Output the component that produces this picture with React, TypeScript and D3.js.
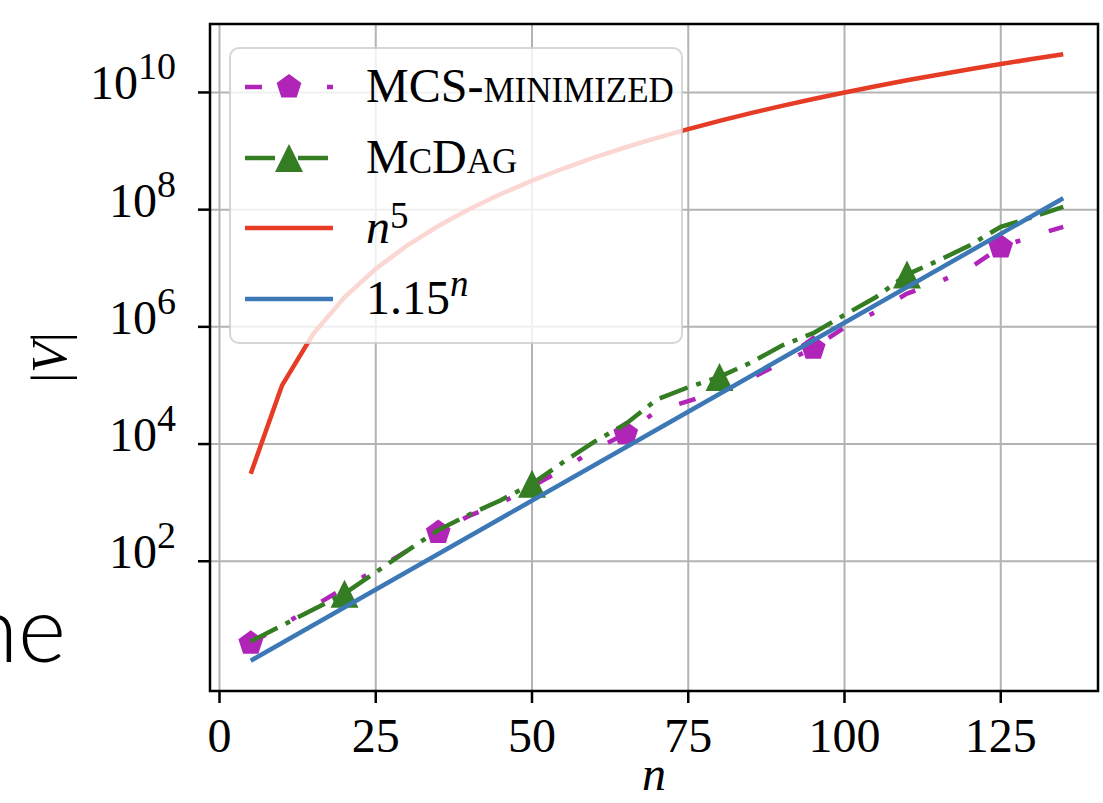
import React from 'react';
import * as d3 from 'd3';

// problem size n (x axis)
const nValues = [5, 10, 15, 20, 25, 30, 35, 40, 45, 50, 55, 60, 65, 70, 75, 80, 85, 90, 95, 100, 105, 110, 115, 120, 125, 130, 135];

// |V|
const mcsMinimized = [4, 8, 17, 35, 72, 150, 310, 600, 980, 1900, 3700, 8100, 15000, 37000, 54000, 79000, 132000, 245000, 430000, 980000, 1.8e6, 3.7e6, 5.8e6, 1.0e7, 2.3e7, 3.5e7, 5.1e7];
const mcDag = [4.3, 8, 15, 28, 65, 150, 340, 630, 1100, 2100, 4900, 11000, 22000, 58000, 93000, 140000, 245000, 480000, 780000, 1.6e6, 3.2e6, 7.8e6, 1.35e7, 2.45e7, 5.1e7, 7.4e7, 1.12e8];

// reference curves
const polyValues = [3125, 100000, 759375, 3200000, 9765625, 24300000, 52521875, 102400000, 184528125, 312500000, 503284375, 777600000, 1160290625, 1680700000, 2373046875, 3276800000, 4437053125, 5904900000, 7737809375, 10000000000, 12762815625, 16105100000, 20113571875, 24883200000, 30517578125, 37129300000, 44840334375];
const expN = [5, 70, 135];
const expValues = [2.011, 17740, 1.564e8];

// where markers sit
const mcsMarkerN = [5, 35, 65, 95, 125];
const mcDagMarkerN = [20, 50, 80, 110];

const xTicks = [0, 25, 50, 75, 100, 125];
const yTickExps = [2, 4, 6, 8, 10];

const W = 1103;
const H = 803;
const left = 210, right = 1098, top = 24, bottom = 691;

const C_MCS = '#b024b8';
const C_DAG = '#347d22';
const C_POLY = '#e63b25';
const C_EXP = '#3c78b6';
const SERIF = '"Liberation Serif", "DejaVu Serif", serif';

const pentagon = (r: number) => {
  const p = d3.path();
  for (let k = 0; k < 5; k++) {
    const a = (-90 + k * 72) * Math.PI / 180;
    const px = r * Math.cos(a), py = r * Math.sin(a);
    if (k === 0) p.moveTo(px, py); else p.lineTo(px, py);
  }
  p.closePath();
  return p.toString();
};

const triangle = (h: number) => `M0,${-h}L${-h},${h}L${h},${h}Z`;

const App = () => {
  const x = d3.scaleLinear().domain([-1.52, 140.56]).range([left, right]);
  const y = d3.scaleLog().domain([Math.pow(10, -0.214), Math.pow(10, 11.168)]).range([bottom, top]);

  const line = d3.line<[number, number]>()
    .x(d => x(d[0]))
    .y(d => y(d[1]));

  const mcsPts = nValues.map((n, i) => [n, mcsMinimized[i]] as [number, number]);
  const dagPts = nValues.map((n, i) => [n, mcDag[i]] as [number, number]);
  const polyPts = nValues.map((n, i) => [n, polyValues[i]] as [number, number]);
  const expPts = expN.map((n, i) => [n, expValues[i]] as [number, number]);

  const pent = pentagon(13);
  const tri = triangle(14);

  // legend layout
  const lgX = 230, lgY = 48, lgW = 452, lgH = 295;
  const rowY = [87, 158, 228, 299];
  const hx0 = 245, hx1 = 333, hxm = 289, tx = 366;

  return (
    <svg width={W} height={H} style={{ position: 'absolute', left: 0, top: 0, background: '#fff' }}
      fontFamily={SERIF}>
      <defs>
        <clipPath id="plot">
          <rect x={left} y={top} width={right - left} height={bottom - top} />
        </clipPath>
      </defs>
      <rect x={0} y={0} width={W} height={H} fill="#fff" />

      {/* grid */}
      <g stroke="#b3b3b3" strokeWidth={2}>
        {xTicks.map(t => <line key={'gx' + t} x1={x(t)} x2={x(t)} y1={top} y2={bottom} />)}
        {yTickExps.map(e => <line key={'gy' + e} x1={left} x2={right} y1={y(Math.pow(10, e))} y2={y(Math.pow(10, e))} />)}
      </g>

      {/* series */}
      <g clipPath="url(#plot)">
        <path d={line(mcsPts) || ''} fill="none" stroke={C_MCS} strokeWidth={4.5} strokeDasharray="17 30 5 30" />
        {mcsPts.filter(p => mcsMarkerN.includes(p[0])).map(p => (
          <path key={'m' + p[0]} d={pent} transform={`translate(${x(p[0])},${y(p[1])})`} fill={C_MCS} />
        ))}
        <path d={line(dagPts) || ''} fill="none" stroke={C_DAG} strokeWidth={4.5} strokeDasharray="30 9 5 9" />
        {dagPts.filter(p => mcDagMarkerN.includes(p[0])).map(p => (
          <path key={'g' + p[0]} d={tri} transform={`translate(${x(p[0])},${y(p[1])})`} fill={C_DAG} />
        ))}
        <path d={line(polyPts) || ''} fill="none" stroke={C_POLY} strokeWidth={4.5} />
        <path d={line(expPts) || ''} fill="none" stroke={C_EXP} strokeWidth={4.5} />
      </g>

      {/* frame */}
      <rect x={left} y={top} width={right - left} height={bottom - top} fill="none" stroke="#000" strokeWidth={2.5} />

      {/* x ticks */}
      <g>
        {xTicks.map(t => (
          <g key={'xt' + t}>
            <line x1={x(t)} x2={x(t)} y1={bottom} y2={bottom + 12} stroke="#000" strokeWidth={2.5} />
            <text x={x(t)} y={752} textAnchor="middle" fontSize={48}>{t}</text>
          </g>
        ))}
      </g>

      {/* y ticks */}
      <g>
        {yTickExps.map(e => {
          const ty = y(Math.pow(10, e));
          return (
            <g key={'yt' + e}>
              <line x1={left - 12} x2={left} y1={ty} y2={ty} stroke="#000" strokeWidth={2.5} />
              <text x={176} y={ty + 7} textAnchor="end" fontSize={48}>
                10<tspan fontSize={38} dy={-20}>{e}</tspan>
              </text>
            </g>
          );
        })}
      </g>

      {/* axis labels */}
      <text transform={`translate(66,${(top + bottom) / 2}) rotate(-90)`} textAnchor="middle" fontSize={50}>
        |<tspan fontStyle="italic">V</tspan>|
      </text>
      <text x={(left + right) / 2} y={790} textAnchor="middle" fontSize={48} fontStyle="italic">n</text>

      {/* legend */}
      <g>
        <rect x={lgX} y={lgY} width={lgW} height={lgH} rx={9} fill="#fff" fillOpacity={0.8}
          stroke="#cccccc" strokeOpacity={0.8} strokeWidth={2} />
        <line x1={hx0} x2={hx1} y1={rowY[0]} y2={rowY[0]} stroke={C_MCS} strokeWidth={4.5} strokeDasharray="17 30 5 30" />
        <path d={pent} transform={`translate(${hxm},${rowY[0]})`} fill={C_MCS} />
        <line x1={hx0} x2={hx1} y1={rowY[1]} y2={rowY[1]} stroke={C_DAG} strokeWidth={4.5} strokeDasharray="30 9 5 9" />
        <path d={tri} transform={`translate(${hxm},${rowY[1]})`} fill={C_DAG} />
        <line x1={hx0} x2={hx1} y1={rowY[2]} y2={rowY[2]} stroke={C_POLY} strokeWidth={4.5} />
        <line x1={hx0} x2={hx1} y1={rowY[3]} y2={rowY[3]} stroke={C_EXP} strokeWidth={4.5} />

        <text x={tx} y={rowY[0] + 15} fontSize={48}>
          MCS-<tspan fontSize={35}>MINIMIZED</tspan>
        </text>
        <text x={tx} y={rowY[1] + 15} fontSize={48}>
          M<tspan fontSize={35}>C</tspan>D<tspan fontSize={35}>AG</tspan>
        </text>
        <text x={tx} y={rowY[2] + 15} fontSize={48}>
          <tspan fontStyle="italic">n</tspan><tspan fontSize={37} dy={-15}>5</tspan>
        </text>
        <text x={tx} y={rowY[3] + 15} fontSize={48}>
          1.15<tspan fontSize={37} dy={-18} fontStyle="italic">n</tspan>
        </text>
      </g>

      {/* fragment of surrounding slide text */}
      <text x={66} y={662} textAnchor="end" fontSize={92} fontWeight={300}
        fontFamily='Lato, "Open Sans", sans-serif'>ne</text>
    </svg>
  );
};

export default App;
